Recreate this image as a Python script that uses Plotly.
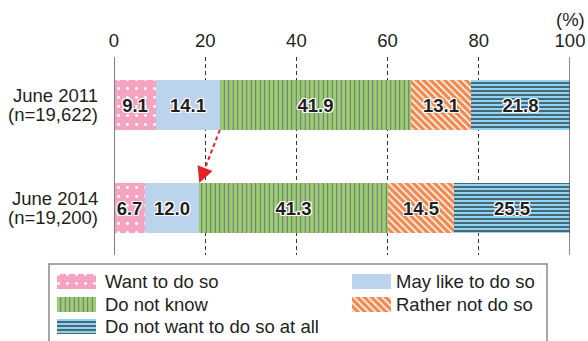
import plotly.graph_objects as go

W, H = 588, 341
FONT = "Liberation Sans, Arial, sans-serif"
INK = "#231F20"

# survey rows
periods = ["June 2011", "June 2014"]
sample_sizes = ["(n=19,622)", "(n=19,200)"]
tick_values = [0, 20, 40, 60, 80, 100]

# answer categories and shares (%)
responses = [
    "Want to do so",
    "May like to do so",
    "Do not know",
    "Rather not do so",
    "Do not want to do so at all",
]
want = [9.1, 6.7]
may_like = [14.1, 12.0]
dont_know = [41.9, 41.3]
rather_not = [13.1, 14.5]
not_at_all = [21.8, 25.5]
series = [want, may_like, dont_know, rather_not, not_at_all]

# fill style for each answer: background, pattern shape, line/dot colour, tile size, solidity
styles = [
    dict(bg="#F4A3C0", shape=".", fg="#FFFFFF", size=9, solidity=0.08),
    dict(bg="#BCD3EE", shape="", fg="#BCD3EE", size=8, solidity=0.2),
    dict(bg="#9BCF6B", shape="|", fg="#6F6790", size=4.5, solidity=0.22),
    dict(bg="#F28A50", shape="\\", fg="#FFFFFF", size=5, solidity=0.3),
    dict(bg="#8FD4F4", shape="-", fg="#111111", size=4, solidity=0.28),
]

def pattern(st):
    return dict(shape=st["shape"], fgcolor=st["fg"], bgcolor=st["bg"], fgopacity=1,
                size=st["size"], solidity=st["solidity"], fillmode="overlay")

outline = ", ".join(f"{dx}px {dy}px 0 #fff" for dx in (-1, 0, 1) for dy in (-1, 0, 1)
                    if (dx, dy) != (0, 0))

rows = list(range(len(periods)))
bar_w = 0.485

fig = go.Figure()

# stacked horizontal bars
base = [0.0] * len(periods)
for name, vals, st in zip(responses, series, styles):
    fig.add_trace(go.Bar(
        orientation="h", y=rows, x=vals, base=list(base), width=bar_w,
        name=name, showlegend=False,
        marker=dict(color=st["bg"], line=dict(width=0), pattern=pattern(st)),
        text=[f"{v:.1f}" for v in vals], textposition="inside",
        insidetextanchor="middle", textangle=0, constraintext="none",
        textfont=dict(family=FONT, size=18.5, color=INK, weight="bold", shadow=outline),
        hoverinfo="skip",
    ))
    base = [b + v for b, v in zip(base, vals)]

# dashed arrow between the end of "May like to do so" in both years
x_start = want[0] + may_like[0]
x_end = want[1] + may_like[1]
y_start = rows[0] + bar_w / 2
y_end = rows[1] - bar_w / 2
frac = 0.2
x_head = x_end + frac * (x_start - x_end)
y_head = y_end + frac * (y_start - y_end)
fig.add_trace(go.Scatter(
    x=[x_start, x_head], y=[y_start, y_head], mode="lines",
    line=dict(color="#E2232A", width=2, dash="4px,3px"),
    showlegend=False, hoverinfo="skip",
))
fig.add_annotation(
    x=x_end, y=y_end, ax=x_head, ay=y_head, xref="x", yref="y", axref="x", ayref="y",
    text="", showarrow=True, arrowhead=2, arrowsize=1.6, arrowwidth=2,
    arrowcolor="#E2232A", standoff=0,
)

# row labels
for r, (p, n) in enumerate(zip(periods, sample_sizes)):
    for txt, shift in ((p, 9.5), (n, -9.5)):
        fig.add_annotation(
            x=100 / W, y=r, xref="paper", yref="y", text=txt, showarrow=False,
            xanchor="right", yanchor="middle", yshift=shift,
            font=dict(family=FONT, size=18.5, color=INK),
        )

fig.add_annotation(
    x=100, y=(H - 20) / H, xref="x", yref="paper", text="(%)", showarrow=False,
    xanchor="center", yanchor="middle", font=dict(family=FONT, size=18.5, color=INK),
)

# solid frame lines at 0 and 100
fig.add_shape(type="line", xref="x", yref="y domain", x0=0, x1=0, y0=0, y1=1,
              line=dict(color="#7F7F7F", width=2), layer="above")
fig.add_shape(type="line", xref="x", yref="y domain", x0=100, x1=100, y0=0, y1=1,
              line=dict(color="#555555", width=1.4), layer="above")

# legend: swatches drawn on a pixel-scaled helper axis
legend_slots = [(57, 103, 281.5), (352, 394, 281.5), (57, 103, 304.5),
                (352, 394, 304.5), (57, 103, 326.5)]
sw_w, sw_h = 39, 15
for name, st, (sx, tx, cy) in zip(responses, styles, legend_slots):
    fig.add_trace(go.Bar(
        orientation="h", y=[cy], x=[sw_w], base=[sx], width=sw_h,
        xaxis="x2", yaxis="y2", showlegend=False, hoverinfo="skip",
        marker=dict(color=st["bg"], line=dict(width=0), pattern=pattern(st)),
    ))
    fig.add_annotation(
        x=tx, y=cy, xref="x2", yref="y2", text=name, showarrow=False,
        xanchor="left", yanchor="middle", font=dict(family=FONT, size=18.5, color=INK),
    )
fig.add_shape(type="rect", xref="paper", yref="paper",
              x0=49 / W, x1=547 / W, y0=-0.02, y1=(H - 264) / H,
              line=dict(color="#8A8A8A", width=1.5), fillcolor="rgba(0,0,0,0)")

fig.update_layout(
    width=W, height=H, margin=dict(l=0, r=0, t=0, b=0),
    paper_bgcolor="white", plot_bgcolor="rgba(0,0,0,0)",
    barmode="overlay", bargap=0, showlegend=False,
    font=dict(family=FONT, size=18.5, color=INK),
    xaxis=dict(
        domain=[114 / W, 570 / W], range=[0, 100], side="top",
        tickvals=tick_values, ticktext=[str(t) for t in tick_values],
        ticks="outside", ticklen=2, tickcolor="rgba(0,0,0,0)",
        showgrid=True, gridcolor="#333333", gridwidth=1, griddash="4px,3px",
        zeroline=False, showline=False, automargin=False, fixedrange=True,
        tickfont=dict(family=FONT, size=18.5, color=INK),
    ),
    yaxis=dict(
        domain=[(H - 255) / H, (H - 57) / H], range=[1.456, -0.466],
        showticklabels=False, showgrid=False, zeroline=False, automargin=False,
        fixedrange=True,
    ),
    xaxis2=dict(domain=[0, 1], range=[0, W], anchor="y2", visible=False, fixedrange=True),
    yaxis2=dict(domain=[0, 1], range=[H, 0], anchor="x2", visible=False, fixedrange=True),
)

fig.write_html("out.html")
